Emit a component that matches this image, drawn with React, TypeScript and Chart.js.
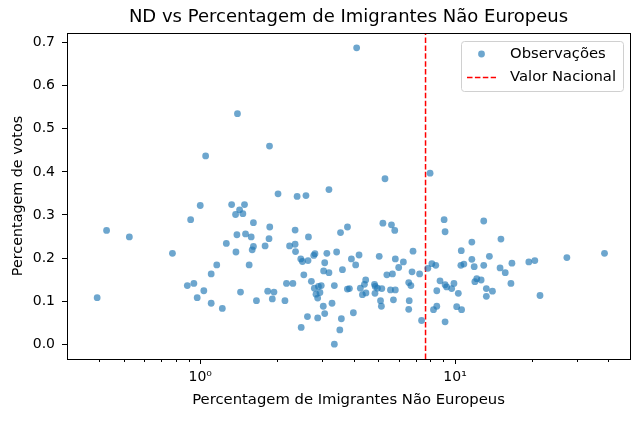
import { useEffect, useRef } from "react"
import Chart from "chart.js/auto"

// % imigrantes não europeus (eixo x, escala log) e % de votos ND por concelho
const imigrantes = [
  1.4, 1.05, 1.87, 4.11, 2.02, 2.4, 2.6, 3.2, 5.31, 7.98,
  0.429, 0.527, 0.394, 0.778, 1.0, 0.917, 1.328, 1.492, 1.427, 1.376,
  1.47, 1.617, 1.393, 1.506, 1.585, 1.266, 1.617, 1.599, 1.381, 1.556,
  1.161, 1.104, 0.89, 0.944, 1.033, 0.973, 1.104, 1.221, 1.439, 1.662,
  1.874, 1.862, 1.797, 2.357, 2.659, 3.553, 3.783, 5.21, 5.63, 5.8,
  9.06, 9.14, 2.242, 2.357, 2.366, 2.481, 2.518, 2.649, 2.789, 2.82,
  3.14, 3.43, 3.08, 3.05, 3.2, 3.615, 3.92, 4.2, 4.074, 5.04,
  5.83, 6.27, 6.01, 6.84, 5.4, 5.68, 6.78, 7.26, 7.82, 8.11,
  8.4, 2.55, 2.18, 2.31, 2.73, 2.805, 2.91, 2.985, 2.847, 2.89,
  3.04, 3.08, 2.635, 2.89, 3.29, 3.58, 3.53, 3.36, 2.49, 2.15,
  1.84, 1.918, 1.947, 3.36, 3.78, 3.85, 4.25, 4.33, 4.46, 4.47,
  4.85, 4.86, 4.96, 5.16, 4.83, 5.1, 5.14, 5.58, 5.83, 5.73,
  6.58, 6.71, 6.61, 6.58, 7.39, 8.48, 8.23, 9.14, 8.48, 8.73,
  9.14, 9.27, 3.99, 2.95, 4.41, 12.96, 15.14, 11.64, 10.58, 13.64,
  11.64, 10.54, 10.83, 11.89, 12.96, 16.72, 15.02, 15.74, 19.48, 20.56,
  27.47, 38.6, 9.9, 9.7, 10.3, 11.96, 12.17, 12.66, 13.27, 14.02,
  13.27, 16.57, 21.55, 10.15, 10.61,
]
const votos = [
  0.535, 0.437, 0.46, 0.688, 0.349, 0.343, 0.345, 0.359, 0.384, 0.397,
  0.264, 0.249, 0.108, 0.211, 0.322, 0.289, 0.324, 0.324, 0.312, 0.301,
  0.303, 0.282, 0.254, 0.256, 0.249, 0.234, 0.227, 0.219, 0.214, 0.184,
  0.184, 0.163, 0.136, 0.141, 0.124, 0.108, 0.095, 0.083, 0.121, 0.101,
  0.272, 0.245, 0.228, 0.265, 0.249, 0.259, 0.272, 0.281, 0.277, 0.264,
  0.289, 0.261, 0.228, 0.232, 0.215, 0.198, 0.192, 0.194, 0.206, 0.21,
  0.211, 0.214, 0.189, 0.17, 0.166, 0.173, 0.198, 0.207, 0.184, 0.204,
  0.198, 0.191, 0.178, 0.216, 0.161, 0.163, 0.168, 0.163, 0.176, 0.187,
  0.183, 0.161, 0.141, 0.141, 0.146, 0.13, 0.134, 0.136, 0.116, 0.107,
  0.088, 0.071, 0.064, 0.061, 0.095, 0.059, 0.033, 0.0, 0.039, 0.101,
  0.123, 0.105, 0.121, 0.136, 0.128, 0.129, 0.13, 0.115, 0.149, 0.119,
  0.118, 0.134, 0.13, 0.129, 0.139, 0.101, 0.088, 0.126, 0.126, 0.103,
  0.143, 0.136, 0.101, 0.081, 0.055, 0.088, 0.08, 0.052, 0.124, 0.147,
  0.138, 0.133, 0.073, 0.12, 0.139, 0.286, 0.244, 0.237, 0.217, 0.204,
  0.197, 0.183, 0.186, 0.18, 0.183, 0.188, 0.177, 0.166, 0.191, 0.194,
  0.201, 0.211, 0.141, 0.129, 0.118, 0.145, 0.152, 0.149, 0.129, 0.123,
  0.111, 0.141, 0.113, 0.087, 0.08,
]
const valorNacional = 7.66

const xMin = 0.3105
const xMax = 48.6
const yMin = -0.0344
const yMax = 0.7224
const yTicks = [0, 0.1, 0.2, 0.3, 0.4, 0.5, 0.6, 0.7]
const xMajorTicks = [1, 10]
const xMajorLabels = ["10⁰", "10¹"]
const xMinorTicks = [0.4, 0.5, 0.6, 0.7, 0.8, 0.9, 2, 3, 4, 5, 6, 7, 8, 9, 20, 30, 40]

const titulo = "ND vs Percentagem de Imigrantes Não Europeus"
const tituloX = "Percentagem de Imigrantes Não Europeus"
const tituloY = "Percentagem de votos"
const legendaPontos = "Observações"
const legendaLinha = "Valor Nacional"

const FONT = "'DejaVu Sans', sans-serif"
const pointColor = "rgba(31, 119, 180, 0.65)"
const lineDash = [5.5, 2.4]

const extras = {
  id: "extras",
  afterDraw(chart: any) {
    const { ctx, chartArea: a, scales } = chart
    ctx.save()

    // minor ticks do eixo log
    ctx.strokeStyle = "#000"
    ctx.lineWidth = 1
    for (const v of xMinorTicks) {
      const px = Math.round(scales.x.getPixelForValue(v)) + 0.5
      ctx.beginPath()
      ctx.moveTo(px, a.bottom)
      ctx.lineTo(px, a.bottom + 3)
      ctx.stroke()
    }

    // caixa dos eixos
    ctx.strokeRect(Math.round(a.left) + 0.5, Math.round(a.top) + 0.5, Math.round(a.right - a.left), Math.round(a.bottom - a.top))

    // título centrado nos eixos
    ctx.fillStyle = "#000"
    ctx.font = `18px ${FONT}`
    ctx.textAlign = "center"
    ctx.textBaseline = "middle"
    ctx.fillText(titulo, (a.left + a.right) / 2, 17.5)

    // legenda
    ctx.font = `14.8px ${FONT}`
    const textW = Math.max(ctx.measureText(legendaPontos).width, ctx.measureText(legendaLinha).width)
    const right = a.right - 7
    const top = a.top + 8
    const textX = right - 7 - textW
    const handleEnd = textX - 14
    const handleStart = handleEnd - 29
    const left = handleStart - 6
    const bottom = top + 50
    ctx.fillStyle = "rgba(255,255,255,0.8)"
    ctx.strokeStyle = "#d0d0d0"
    ctx.lineWidth = 1
    ctx.beginPath()
    ctx.roundRect(left + 0.5, top + 0.5, right - left, bottom - top, 3)
    ctx.fill()
    ctx.stroke()

    const row1 = top + 13
    const row2 = top + 36.5
    ctx.fillStyle = pointColor
    ctx.beginPath()
    ctx.arc((handleStart + handleEnd) / 2, row1, 3.4, 0, Math.PI * 2)
    ctx.fill()

    ctx.strokeStyle = "red"
    ctx.lineWidth = 1.5
    ctx.setLineDash(lineDash)
    ctx.beginPath()
    ctx.moveTo(handleStart, row2)
    ctx.lineTo(handleEnd, row2)
    ctx.stroke()
    ctx.setLineDash([])

    ctx.fillStyle = "#000"
    ctx.textAlign = "left"
    ctx.textBaseline = "middle"
    ctx.fillText(legendaPontos, textX, row1)
    ctx.fillText(legendaLinha, textX, row2)

    ctx.restore()
  },
}

export default function App() {
  const chartRef = useRef<HTMLCanvasElement>(null)
  const chartInstance = useRef<Chart | null>(null)

  useEffect(() => {
    if (!chartRef.current) return
    if (chartInstance.current) chartInstance.current.destroy()

    const ctx = chartRef.current.getContext("2d")
    if (!ctx) return

    chartInstance.current = new Chart(ctx, {
      type: "scatter",
      data: {
        datasets: [
          {
            label: legendaPontos,
            data: imigrantes.map((x, i) => ({ x, y: votos[i] })),
            backgroundColor: pointColor,
            borderWidth: 0,
            pointRadius: 3.4,
          },
          {
            label: legendaLinha,
            data: [
              { x: valorNacional, y: yMin },
              { x: valorNacional, y: yMax },
            ],
            showLine: true,
            borderColor: "red",
            borderWidth: 1.5,
            borderDash: lineDash,
            pointRadius: 0,
            fill: false,
          },
        ],
      },
      options: {
        responsive: false,
        animation: false,
        events: [],
        layout: { padding: { top: 33, right: 10, left: 0, bottom: 0 } },
        plugins: {
          legend: { display: false },
          tooltip: { enabled: false },
          title: { display: false },
        },
        scales: {
          x: {
            type: "logarithmic",
            min: xMin,
            max: xMax,
            afterBuildTicks: (scale: any) => {
              scale.ticks = xMajorTicks.map((v) => ({ value: v }))
            },
            afterFit: (scale: any) => {
              scale.height = 63
            },
            ticks: {
              autoSkip: false,
              maxRotation: 0,
              padding: 5,
              color: "#000",
              font: { family: FONT, size: 14 },
              callback: (v: any) => {
                const i = xMajorTicks.indexOf(Number(v))
                return i >= 0 ? xMajorLabels[i] : ""
              },
            },
            grid: { display: true, drawOnChartArea: false, drawTicks: true, tickLength: 5, tickColor: "#000", tickWidth: 1 },
            border: { display: false },
            title: {
              display: true,
              text: tituloX,
              color: "#000",
              font: { family: FONT, size: 14.8 },
              padding: { top: 0, bottom: 12.5 },
            },
          },
          y: {
            min: yMin,
            max: yMax,
            afterBuildTicks: (scale: any) => {
              scale.ticks = yTicks.map((v) => ({ value: v }))
            },
            afterFit: (scale: any) => {
              scale.width = 67
            },
            ticks: {
              autoSkip: false,
              padding: 7,
              color: "#000",
              font: { family: FONT, size: 14 },
              callback: (v: any) => Number(v).toFixed(1),
            },
            grid: { display: true, drawOnChartArea: false, drawTicks: true, tickLength: 5, tickColor: "#000", tickWidth: 1 },
            border: { display: false },
            title: {
              display: true,
              text: tituloY,
              color: "#000",
              font: { family: FONT, size: 14.3 },
              padding: { top: 10, bottom: 0 },
            },
          },
        },
      },
      plugins: [extras],
    })

    return () => {
      if (chartInstance.current) {
        chartInstance.current.destroy()
        chartInstance.current = null
      }
    }
  }, [])

  return (
    <div style={{ position: "fixed", left: 0, top: 0, width: 640, height: 422, background: "#fff" }}>
      <canvas ref={chartRef} width={640} height={422} style={{ width: 640, height: 422 }}></canvas>
    </div>
  )
}
